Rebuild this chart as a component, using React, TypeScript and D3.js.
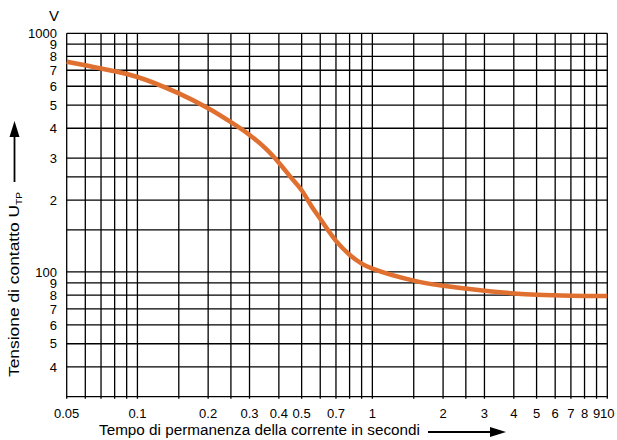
import React from "react";
import * as d3 from "d3";

const xGrid = [0.05, 0.06, 0.07, 0.08, 0.09, 0.1, 0.15, 0.2, 0.25, 0.3, 0.4, 0.5, 0.6, 0.7, 0.8, 0.9, 1, 1.5, 2, 2.5, 3, 4, 5, 6, 7, 8, 9, 10];
const xTickValues = [0.05, 0.1, 0.2, 0.3, 0.4, 0.5, 0.7, 1, 2, 3, 4, 5, 6, 7, 8, 9, 10];
const xTickLabels = ["0.05", "0.1", "0.2", "0.3", "0.4", "0.5", "0.7", "1", "2", "3", "4", "5", "6", "7", "8", "9", "10"];
const yGrid = [1000, 900, 800, 700, 600, 500, 400, 300, 250, 200, 150, 100, 90, 80, 70, 60, 50, 40, 30];
const yTickValues = [1000, 900, 800, 700, 600, 500, 400, 300, 200, 100, 90, 80, 70, 60, 50, 40];
const yTickLabels = ["1000", "9", "8", "7", "6", "5", "4", "3", "2", "100", "9", "8", "7", "6", "5", "4"];

const times = [0.05, 0.07, 0.1, 0.15, 0.2, 0.25, 0.3, 0.35, 0.4, 0.45, 0.5, 0.55, 0.6, 0.7, 0.8, 0.9, 1, 1.5, 2, 3, 4, 5, 7, 10];
const volts = [760, 712, 656, 560, 485, 424, 375, 330, 287, 249, 220, 189, 167, 135, 118, 108.4, 103.3, 92, 87.5, 83.4, 81.3, 80.2, 79.4, 79.2];

export default function App() {
  const W = 617, H = 440;
  const x = d3.scaleLog().domain([0.05, 10]).range([66.7, 607.3]);
  const y = d3.scaleLog().domain([30, 1000]).range([396.7, 33.3]);
  const pts = times.map((t, i) => [x(t), y(volts[i])] as [number, number]);
  const line = d3.line().curve(d3.curveCatmullRom.alpha(0.5))(pts) || "";
  const font = "'Liberation Sans', Arial, Helvetica, sans-serif";
  return (
    <svg width={W} height={H} style={{ position: "absolute", left: 0, top: 0, background: "#fff" }} fontFamily={font}>
      <rect width={W} height={H} fill="#fff" />
      <g stroke="#000" strokeWidth={1.3}>
        {xGrid.map((v) => (
          <line key={"x" + v} x1={x(v)} x2={x(v)} y1={y(1000)} y2={y(30) + 2} />
        ))}
        {yGrid.map((v) => (
          <line key={"y" + v} x1={x(0.05)} x2={x(10)} y1={y(v)} y2={y(v)} />
        ))}
      </g>
      <path d={line} fill="none" stroke="#E0702F" strokeWidth={4.5} strokeLinecap="butt" />
      <g fontSize={13} fill="#000">
        {xTickValues.map((v, i) => (
          <text key={"xt" + i} x={x(v)} y={418} textAnchor="middle">{xTickLabels[i]}</text>
        ))}
        {yTickValues.map((v, i) => (
          <text key={"yt" + i} x={57} y={y(v)} dy="0.36em" textAnchor="end">{yTickLabels[i]}</text>
        ))}
      </g>
      <text x={54} y={21} fontSize={15} textAnchor="middle">V</text>
      <text x={99} y={435} fontSize={15.5} textLength={321} lengthAdjust="spacingAndGlyphs">Tempo di permanenza della corrente in secondi</text>
      <line x1={428} x2={492} y1={432} y2={432} stroke="#000" strokeWidth={1.8} />
      <path d="M490,427 L506,432 L490,437 Z" fill="#000" />
      <g transform="translate(19,377) rotate(-90)">
        <text x={0} y={0} fontSize={15.5} textLength={185} lengthAdjust="spacingAndGlyphs">
          Tensione di contatto U<tspan fontSize={9} dy={3}>TP</tspan>
        </text>
      </g>
      <line x1={14.5} x2={14.5} y1={182} y2={134} stroke="#000" strokeWidth={1.8} />
      <path d="M9.5,137 L14.5,121 L19.5,137 Z" fill="#000" />
    </svg>
  );
}
